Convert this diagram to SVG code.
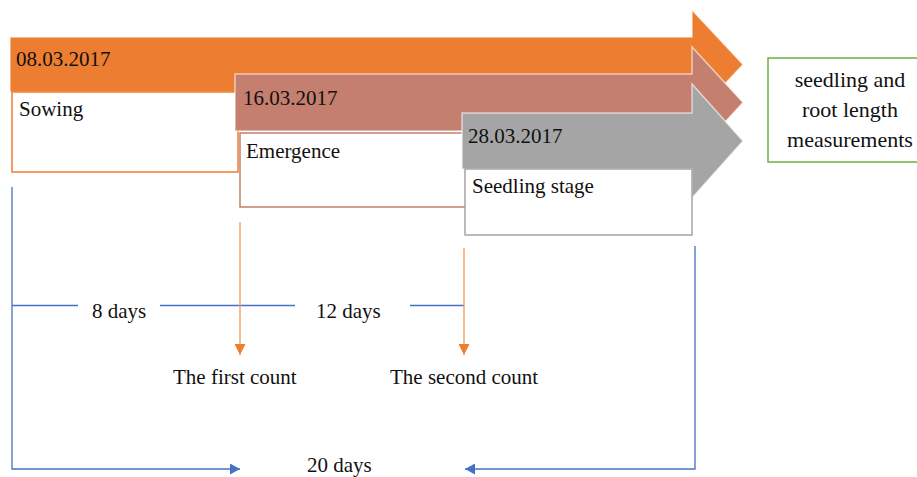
<svg xmlns="http://www.w3.org/2000/svg" width="917" height="477" viewBox="0 0 917 477">
<defs>
<style>
text{font-family:"Liberation Serif","Times New Roman",serif;font-size:21px;fill:#111}
.big{font-size:22px}
.arr{stroke:#fff;stroke-opacity:.6;stroke-width:1.5}
.box{fill:#fff;stroke-width:1.5}
.blue{fill:none;stroke:#4472C4;stroke-width:1.3}
.or{fill:none;stroke:#F19A5A;stroke-width:1.3}
</style>
<marker id="mb" markerUnits="userSpaceOnUse" markerWidth="10" markerHeight="11" refX="10" refY="5.5" orient="auto"><path d="M0,0 L10,5.5 L0,11 z" fill="#4472C4"/></marker>
<marker id="mo" markerUnits="userSpaceOnUse" markerWidth="11" markerHeight="11" refX="11" refY="5.5" orient="auto"><path d="M0,0 L11,5.5 L0,11 z" fill="#ED7D31"/></marker>
</defs>
<rect width="917" height="477" fill="#fff"/>
<g id="sowing">
<polygon class="arr" fill="#ED7D31" points="10,37 692,37 692,10 743,64.5 692,119 692,92 10,92"/>
<rect class="box" x="12" y="92" width="226" height="80" stroke="#ED7D31"/>
<text x="16" y="66">08.03.2017</text>
<text x="19" y="116">Sowing</text>
</g>
<g id="emergence">
<polygon class="arr" fill="#C47F6F" points="235,74 692,74 692,47 743,102.5 692,158 692,131 235,131"/>
<rect class="box" x="240" y="133" width="226" height="74" stroke="#C47F6F"/>
<text x="243" y="105">16.03.2017</text>
<text x="246" y="158">Emergence</text>
</g>
<g id="seedling">
<polygon class="arr" fill="#A5A5A5" points="462,113 692,113 692,84 743,141 692,198 692,169 462,169"/>
<rect class="box" x="465" y="169" width="227" height="66" stroke="#A5A5A5"/>
<text x="468" y="143">28.03.2017</text>
<text x="472" y="193">Seedling stage</text>
</g>
<g id="measure">
<rect class="box" x="768" y="58" width="152" height="104" stroke="#70AD47"/>
<text class="big" x="850" y="87" text-anchor="middle">seedling and</text>
<text class="big" x="850" y="117" text-anchor="middle">root length</text>
<text class="big" x="850" y="147" text-anchor="middle">measurements</text>
</g>
<g id="connectors">
<path class="blue" d="M12,187 V469 H240" marker-end="url(#mb)"/>
<path class="blue" d="M695,246 V469 H465" marker-end="url(#mb)"/>
<path class="blue" d="M12,305.5 H78 M160,305.5 H295 M410,305.5 H464"/>
<path class="or" d="M240,222 V355" marker-end="url(#mo)"/>
<path class="or" d="M464,248 V355" marker-end="url(#mo)"/>
</g>
<g id="labels">
<text x="92" y="318">8 days</text>
<text x="316" y="318">12 days</text>
<text x="173" y="384">The first count</text>
<text x="390" y="384">The second count</text>
<text x="307" y="472">20 days</text>
</g>
</svg>
